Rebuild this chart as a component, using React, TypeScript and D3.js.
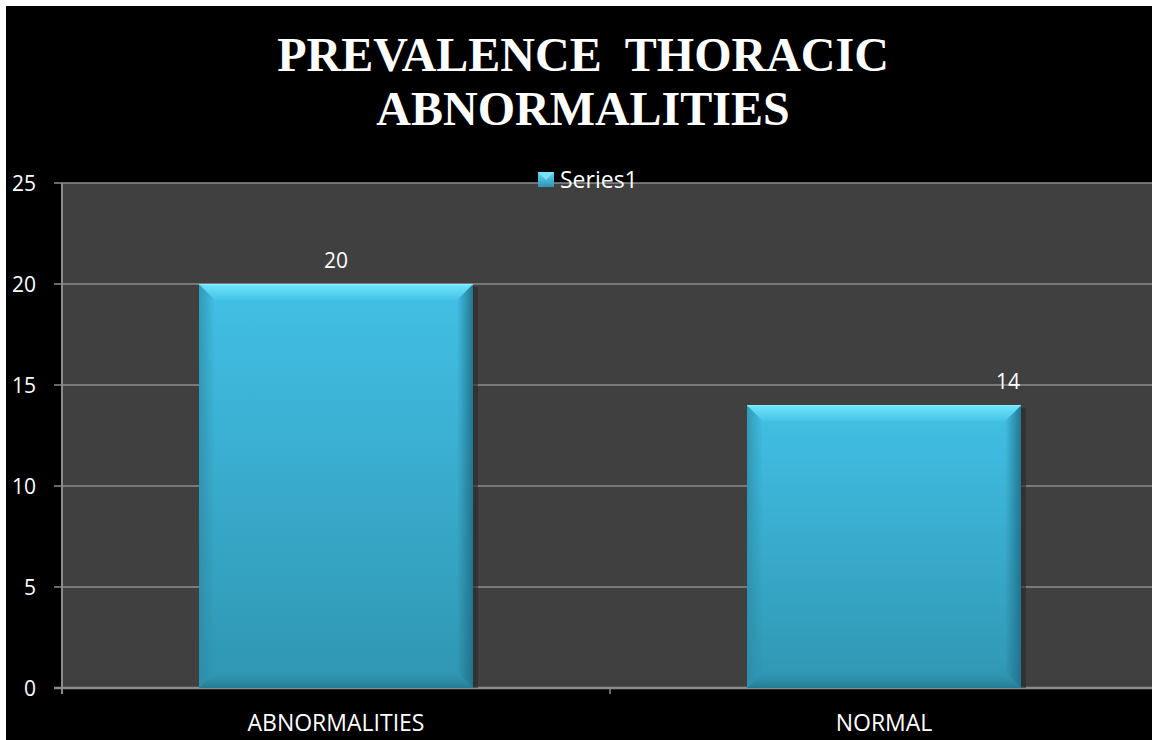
import React from "react";
import * as d3 from "d3";

const categories = ["ABNORMALITIES", "NORMAL"];
const values = [20, 14];
const yTicks = [0, 5, 10, 15, 20, 25];
const seriesName = "Series1";
const titleLines = ["PREVALENCE  THORACIC", "ABNORMALITIES"];

export default function App() {
  const W = 1152, H = 740;
  const left = 62, right = 1158, top = 183, bottom = 688;
  const x = d3.scaleBand<string>().domain(categories).range([left, right]).paddingInner(0.5).paddingOuter(0.25);
  const y = d3.scaleLinear().domain([0, 25]).range([bottom, top]);
  const bw = x.bandwidth();
  const labelDx = [0, 124];
  const font = "'Open Sans', sans-serif";
  return (
    <svg width={W} height={H} style={{ position: "fixed", left: 0, top: 0, display: "block" }}>
      <defs>
        <linearGradient id="barg" x1="0" y1="0" x2="0" y2="1">
          <stop offset="0" stopColor="#42c0e6" />
          <stop offset="1" stopColor="#2f96b2" />
        </linearGradient>
        <linearGradient id="lside" x1="0" y1="0" x2="1" y2="0">
          <stop offset="0" stopColor="#2a8aa6" stopOpacity="0.7" />
          <stop offset="1" stopColor="#2a8aa6" stopOpacity="0" />
        </linearGradient>
        <linearGradient id="rside" x1="0" y1="0" x2="1" y2="0">
          <stop offset="0" stopColor="#1f6f88" stopOpacity="0" />
          <stop offset="1" stopColor="#1f6f88" stopOpacity="0.9" />
        </linearGradient>
        <linearGradient id="topb" x1="0" y1="0" x2="0" y2="1">
          <stop offset="0" stopColor="#6fe6fb" />
          <stop offset="1" stopColor="#45c3e8" />
        </linearGradient>
        <linearGradient id="botb" x1="0" y1="0" x2="0" y2="1">
          <stop offset="0" stopColor="#2a8aa6" stopOpacity="0" />
          <stop offset="1" stopColor="#24788f" stopOpacity="0.9" />
        </linearGradient>
        <linearGradient id="leg" x1="0" y1="0" x2="0" y2="1">
          <stop offset="0" stopColor="#5fd6f3" />
          <stop offset="1" stopColor="#2f96b2" />
        </linearGradient>
      </defs>
      <rect x={0} y={0} width={W} height={H} fill="#ffffff" />
      <rect x={6} y={6} width={W - 6} height={H - 6} fill="#000000" />
      {titleLines.map((t, i) => (
        <text key={i} x={583} y={71 + i * 54} textAnchor="middle" fill="#ffffff"
          fontFamily="'Liberation Serif', 'Times New Roman', serif" fontWeight="bold" fontSize={48}
          style={{ whiteSpace: "pre" }}>{t}</text>
      ))}
      <rect x={left} y={top} width={right - left} height={bottom - top} fill="#404040" />
      {yTicks.map((t) => (
        <g key={t}>
          <line x1={left - 8} x2={right} y1={y(t)} y2={y(t)} stroke="#8c8c8c" strokeWidth={t === 0 ? 2.5 : 1.5} />
          <text x={36} y={y(t) + 8} textAnchor="end" fill="#ffffff" fontFamily={font} fontSize={21}>{t}</text>
        </g>
      ))}
      <line x1={left} x2={left} y1={top} y2={bottom + 6} stroke="#8c8c8c" strokeWidth={2} />
      <line x1={(x(categories[0])! + x(categories[1])! + bw) / 2} x2={(x(categories[0])! + x(categories[1])! + bw) / 2}
        y1={bottom} y2={bottom + 6} stroke="#8c8c8c" strokeWidth={1.5} />
      {categories.map((c, i) => {
        const bx = x(c)!;
        const by = y(values[i]);
        const bh = bottom - by;
        const e = 16;
        return (
          <g key={c}>
            <rect x={bx + bw} y={by + 3} width={5} height={bh - 3} fill="#2a2a2a" opacity={0.6} />
            <rect x={bx} y={by} width={bw} height={bh} fill="url(#barg)" />
            <polygon points={`${bx},${by} ${bx + e},${by + e} ${bx + e},${bottom - e} ${bx},${bottom}`} fill="url(#lside)" />
            <polygon points={`${bx + bw},${by} ${bx + bw - e},${by + e} ${bx + bw - e},${bottom - e} ${bx + bw},${bottom}`} fill="url(#rside)" />
            <polygon points={`${bx},${bottom} ${bx + e},${bottom - e} ${bx + bw - e},${bottom - e} ${bx + bw},${bottom}`} fill="url(#botb)" />
            <polygon points={`${bx},${by} ${bx + bw},${by} ${bx + bw - e},${by + e} ${bx + e},${by + e}`} fill="url(#topb)" />
            <line x1={bx} x2={bx + bw} y1={by + 0.5} y2={by + 0.5} stroke="#8fefff" strokeWidth={1} />
            <text x={bx + bw / 2 + labelDx[i]} y={by - 16} textAnchor="middle" fill="#ffffff"
              fontFamily={font} fontSize={21}>{values[i]}</text>
            <text x={bx + bw / 2} y={731} textAnchor="middle" fill="#ffffff"
              fontFamily={font} fontSize={23}>{c}</text>
          </g>
        );
      })}
      <rect x={538} y={172} width={16} height={15} fill="url(#leg)" />
      <polygon points="538,172 554,172 546,180" fill="#7fe6fb" opacity={0.8} />
      <text x={560} y={188} fill="#ffffff" fontFamily={font} fontSize={23}>{seriesName}</text>
    </svg>
  );
}
